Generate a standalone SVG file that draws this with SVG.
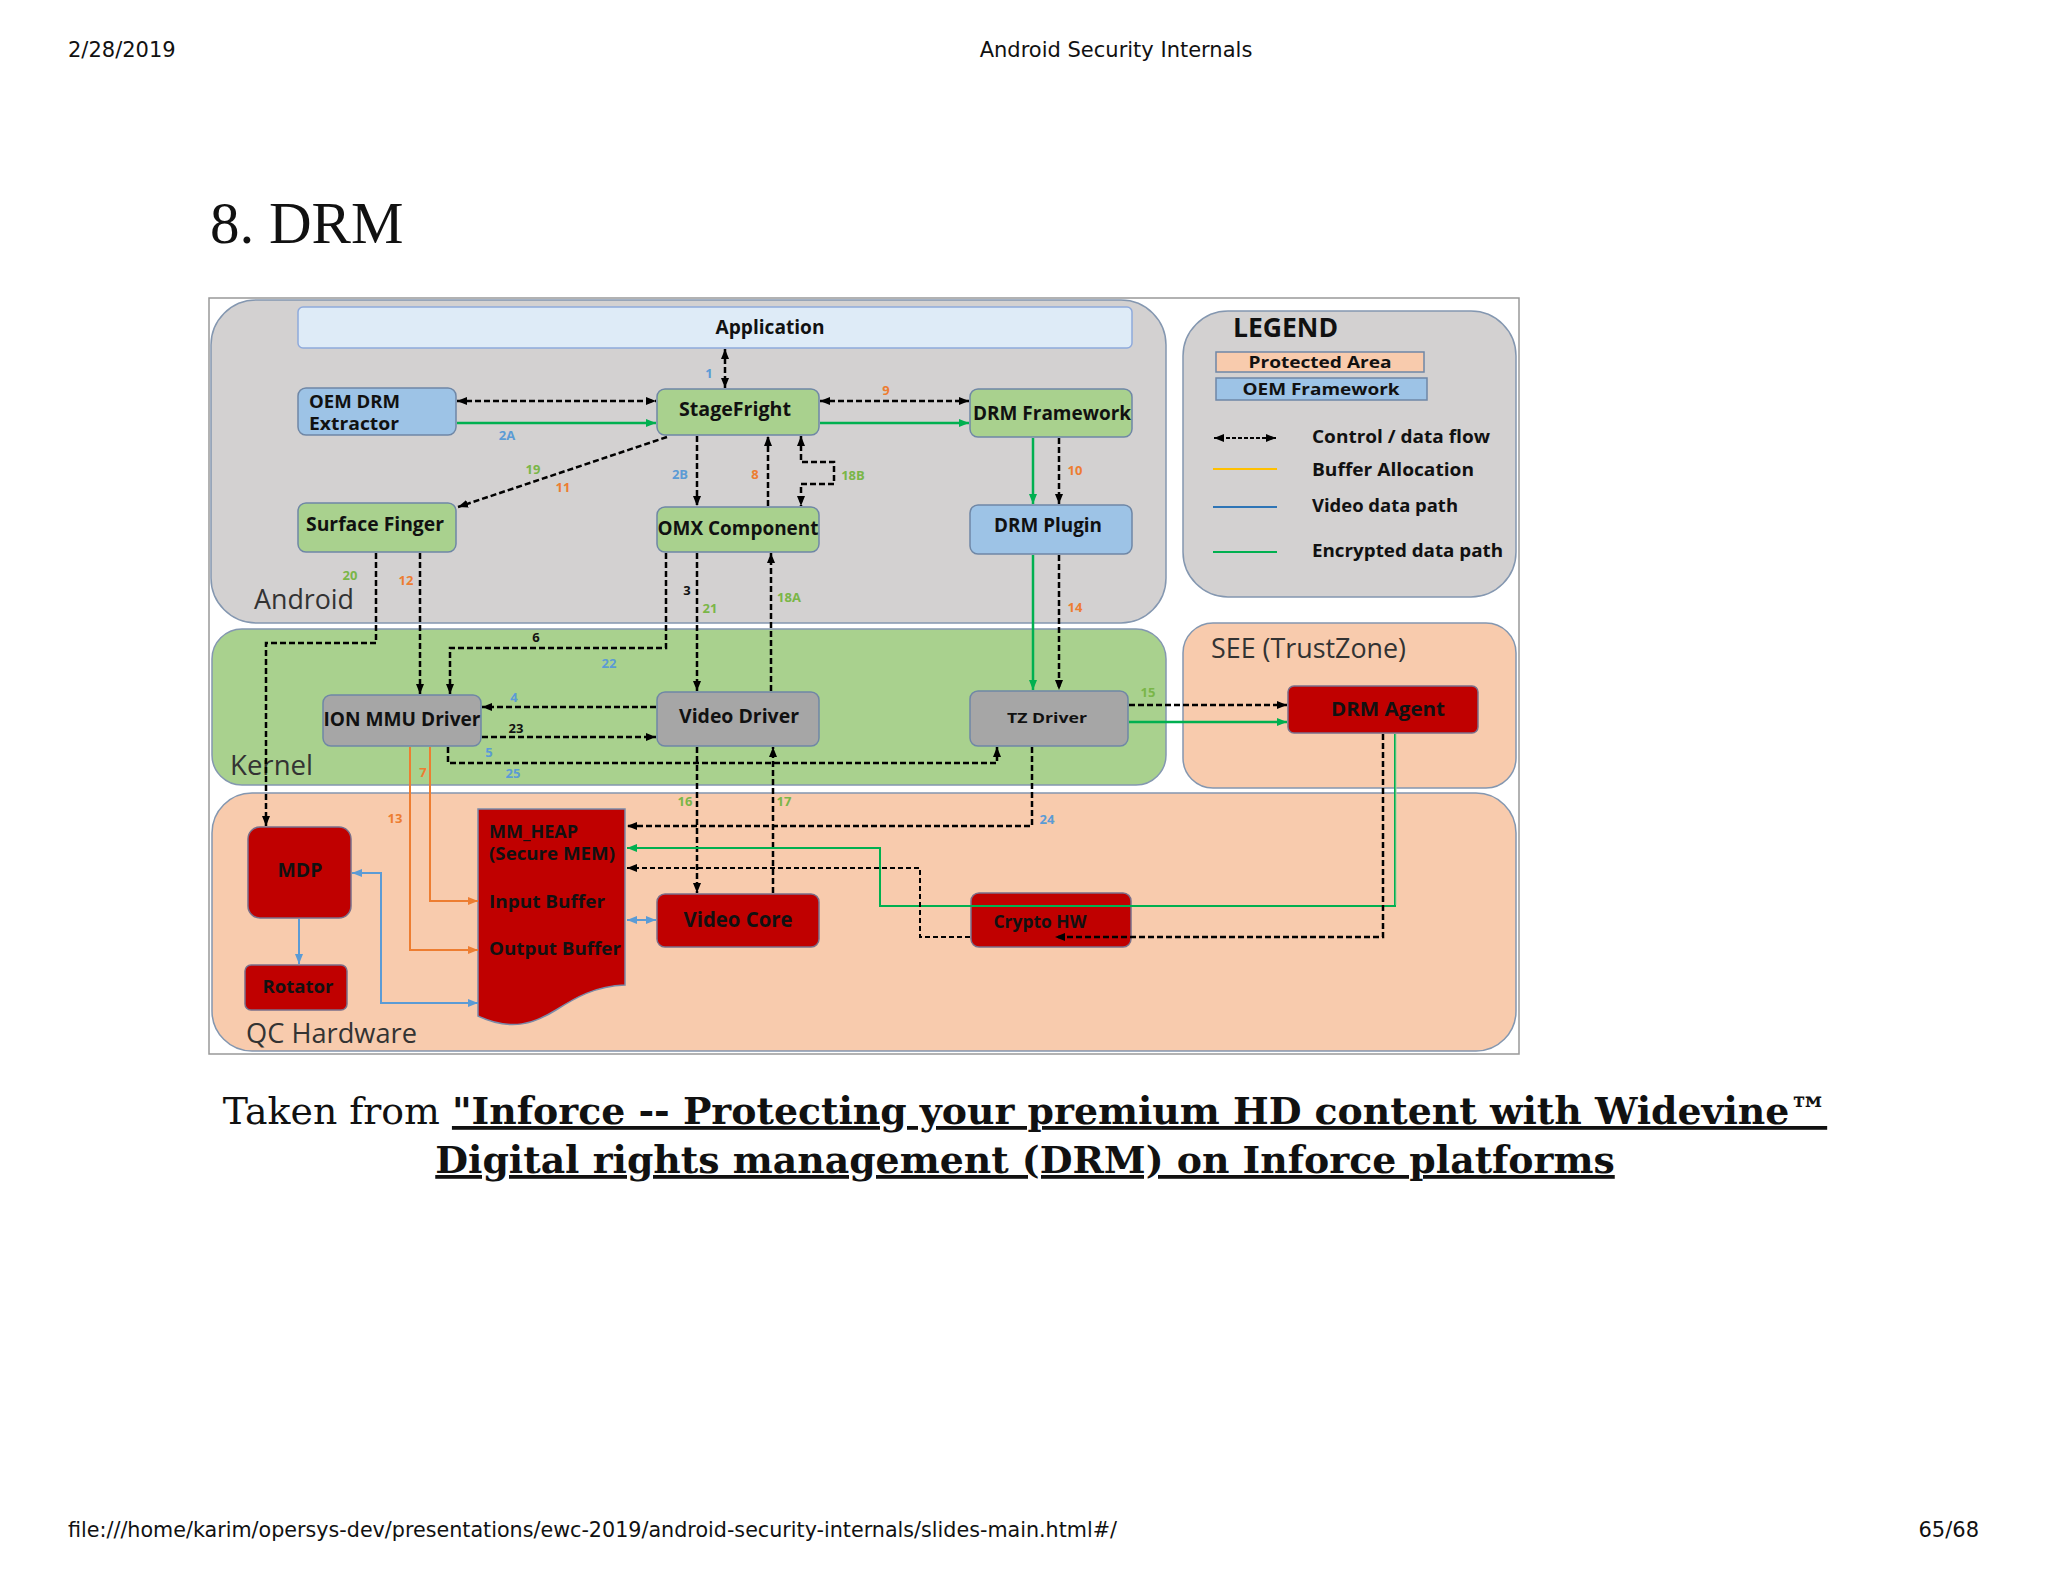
<svg xmlns="http://www.w3.org/2000/svg" width="2048" height="1582" viewBox="0 0 2048 1582">
<defs>
<style>
.hdr{font-family:"DejaVu Sans","Liberation Sans",sans-serif;font-size:21px;fill:#111}
.t{font-family:"Open Sans","Liberation Sans",sans-serif;font-weight:700;fill:#111;text-anchor:middle}
.tl{font-family:"Open Sans","Liberation Sans",sans-serif;font-weight:700;fill:#111}
.sec{font-family:"Open Sans","Liberation Sans",sans-serif;font-size:27px;fill:#333}
.num{font-family:"Open Sans","Liberation Sans",sans-serif;font-weight:700;font-size:13px;text-anchor:middle}
.nb{fill:#5b9bd5}.no{fill:#ed7d31}.ng{fill:#7ab648}.nk{fill:#111}
.panel{stroke:#8497b0;stroke-width:1.5}
.gray{fill:#d3d1d1}.kern{fill:#a9d18e}.peach{fill:#f8cbad}
.ng-box{fill:#a9d18e;stroke:#6f87a6;stroke-width:1.5}
.nb-box{fill:#9dc3e6;stroke:#6f87a6;stroke-width:1.5}
.ngr-box{fill:#a6a6a6;stroke:#6f87a6;stroke-width:1.5}
.nr-box{fill:#c00000;stroke:#7a6f8a;stroke-width:1.5}
.dash{fill:none;stroke:#000;stroke-width:2.5;stroke-dasharray:6 3}
.grn{fill:none;stroke:#00b050;stroke-width:2.5}
.org{fill:none;stroke:#ed7d31;stroke-width:2}
.blu{fill:none;stroke:#5b9bd5;stroke-width:2}
</style>
<marker id="mk" viewBox="0 0 10 10" refX="10" refY="5" markerWidth="10" markerHeight="10" markerUnits="userSpaceOnUse" orient="auto-start-reverse"><path d="M0,1 L10,5 L0,9 z" fill="#000" stroke="none"/></marker>
<marker id="mg" viewBox="0 0 10 10" refX="10" refY="5" markerWidth="10" markerHeight="10" markerUnits="userSpaceOnUse" orient="auto-start-reverse"><path d="M0,1 L10,5 L0,9 z" fill="#00b050" stroke="none"/></marker>
<marker id="mo" viewBox="0 0 10 10" refX="10" refY="5" markerWidth="10" markerHeight="10" markerUnits="userSpaceOnUse" orient="auto-start-reverse"><path d="M0,1 L10,5 L0,9 z" fill="#ed7d31" stroke="none"/></marker>
<marker id="mb" viewBox="0 0 10 10" refX="10" refY="5" markerWidth="10" markerHeight="10" markerUnits="userSpaceOnUse" orient="auto-start-reverse"><path d="M0,1 L10,5 L0,9 z" fill="#5b9bd5" stroke="none"/></marker>
</defs>
<rect x="0" y="0" width="2048" height="1582" fill="#ffffff"/>

<g id="page-header">
<text class="hdr" x="68" y="57">2/28/2019</text>
<text class="hdr" x="1116" y="57" text-anchor="middle">Android Security Internals</text>
</g>
<text x="210" y="243" font-family="'Liberation Serif','Times New Roman',serif" font-size="59" fill="#111">8. DRM</text>

<g id="diagram-frame">
<rect x="209" y="298" width="1310" height="756" fill="#ffffff" stroke="#999" stroke-width="1.5"/>
<rect id="panel-android" class="panel gray" x="211" y="300" width="955" height="323" rx="45"/>
<rect id="panel-kernel" class="panel kern" x="212" y="629" width="954" height="156" rx="30"/>
<rect id="panel-qc" class="panel peach" x="212" y="793" width="1304" height="258" rx="40"/>
<rect id="panel-legend" class="panel gray" x="1183" y="311" width="333" height="286" rx="45"/>
<rect id="panel-see" class="panel peach" x="1183" y="623" width="333" height="165" rx="30"/>
<text class="sec" x="254" y="609" textLength="100" lengthAdjust="spacingAndGlyphs">Android</text>
<text class="sec" x="230" y="775" textLength="83" lengthAdjust="spacingAndGlyphs">Kernel</text>
<text class="sec" x="246" y="1043" textLength="171" lengthAdjust="spacingAndGlyphs">QC Hardware</text>
<text class="sec" x="1211" y="658" textLength="195" lengthAdjust="spacingAndGlyphs">SEE (TrustZone)</text>
</g>

<g id="legend">
<text class="tl" x="1233" y="337" font-size="26" textLength="105" lengthAdjust="spacingAndGlyphs">LEGEND</text>
<rect x="1216" y="352" width="208" height="20" fill="#f8cbad" stroke="#6f87a6" stroke-width="1.5"/>
<text class="t" x="1320" y="368" font-size="16" textLength="143" lengthAdjust="spacingAndGlyphs">Protected Area</text>
<rect x="1216" y="378" width="211" height="22" fill="#9dc3e6" stroke="#6f87a6" stroke-width="1.5"/>
<text class="t" x="1321" y="395" font-size="16" textLength="157" lengthAdjust="spacingAndGlyphs">OEM Framework</text>
<path d="M1214,438 H1276" fill="none" stroke="#000" stroke-width="2" stroke-dasharray="4 2" marker-start="url(#mk)" marker-end="url(#mk)"/>
<path d="M1213,469 H1277" stroke="#ffc000" stroke-width="2"/>
<path d="M1213,507 H1277" stroke="#2e75b6" stroke-width="2"/>
<path d="M1213,552 H1277" stroke="#00b050" stroke-width="2"/>
<text class="tl" x="1312" y="443" font-size="18" textLength="178" lengthAdjust="spacingAndGlyphs">Control / data flow</text>
<text class="tl" x="1312" y="476" font-size="18" textLength="162" lengthAdjust="spacingAndGlyphs">Buffer Allocation</text>
<text class="tl" x="1312" y="512" font-size="18" textLength="146" lengthAdjust="spacingAndGlyphs">Video data path</text>
<text class="tl" x="1312" y="557" font-size="18" textLength="191" lengthAdjust="spacingAndGlyphs">Encrypted data path</text>
</g>

<g id="node-application"><rect x="298" y="307" width="834" height="41" rx="5" fill="#deebf7" stroke="#8faadc" stroke-width="1.5"/><text class="t" x="770" y="334" font-size="19" textLength="109" lengthAdjust="spacingAndGlyphs">Application</text></g>
<g id="node-oem-drm-extractor"><rect class="nb-box" x="298" y="388" width="158" height="47" rx="8"/><text class="tl" x="309" y="408" font-size="18" textLength="91" lengthAdjust="spacingAndGlyphs">OEM DRM</text><text class="tl" x="309" y="430" font-size="18" textLength="90" lengthAdjust="spacingAndGlyphs">Extractor</text></g>
<g id="node-stagefright"><rect class="ng-box" x="657" y="389" width="162" height="46" rx="8"/><text class="t" x="735" y="416" font-size="19" textLength="112" lengthAdjust="spacingAndGlyphs">StageFright</text></g>
<g id="node-drm-framework"><rect class="ng-box" x="970" y="389" width="162" height="48" rx="8"/><text class="t" x="1052" y="420" font-size="19" textLength="158" lengthAdjust="spacingAndGlyphs">DRM Framework</text></g>
<g id="node-surface-finger"><rect class="ng-box" x="298" y="503" width="158" height="49" rx="8"/><text class="t" x="375" y="531" font-size="19" textLength="138" lengthAdjust="spacingAndGlyphs">Surface Finger</text></g>
<g id="node-omx-component"><rect class="ng-box" x="657" y="507" width="162" height="45" rx="8"/><text class="t" x="738" y="535" font-size="19" textLength="161" lengthAdjust="spacingAndGlyphs">OMX Component</text></g>
<g id="node-drm-plugin"><rect class="nb-box" x="970" y="505" width="162" height="49" rx="8"/><text class="t" x="1048" y="532" font-size="19" textLength="108" lengthAdjust="spacingAndGlyphs">DRM Plugin</text></g>
<g id="node-ion-mmu-driver"><rect class="ngr-box" x="323" y="695" width="158" height="51" rx="8"/><text class="t" x="402" y="726" font-size="19" textLength="157" lengthAdjust="spacingAndGlyphs">ION MMU Driver</text></g>
<g id="node-video-driver"><rect class="ngr-box" x="657" y="692" width="162" height="54" rx="8"/><text class="t" x="739" y="723" font-size="19" textLength="120" lengthAdjust="spacingAndGlyphs">Video Driver</text></g>
<g id="node-tz-driver"><rect class="ngr-box" x="970" y="691" width="158" height="55" rx="8"/><text class="t" x="1047" y="723" font-size="15" textLength="80" lengthAdjust="spacingAndGlyphs">TZ Driver</text></g>
<g id="node-drm-agent"><rect class="nr-box" x="1288" y="686" width="190" height="47" rx="6"/><text class="t" x="1388" y="716" font-size="20" textLength="114" lengthAdjust="spacingAndGlyphs">DRM Agent</text></g>
<g id="node-mdp"><rect class="nr-box" x="248" y="827" width="103" height="91" rx="12"/><text class="t" x="300" y="877" font-size="19" textLength="45" lengthAdjust="spacingAndGlyphs">MDP</text></g>
<g id="node-rotator"><rect class="nr-box" x="245" y="965" width="102" height="45" rx="6"/><text class="t" x="298" y="993" font-size="18" textLength="71" lengthAdjust="spacingAndGlyphs">Rotator</text></g>
<g id="node-mm-heap"><path d="M478,809 H625 V985 C595,986 575,998 556,1010 C535,1023 512,1032 478,1016 Z" fill="#c00000" stroke="#7a8aa8" stroke-width="1.5"/>
<text class="tl" x="489" y="838" font-size="18" textLength="89" lengthAdjust="spacingAndGlyphs">MM_HEAP</text>
<text class="tl" x="489" y="860" font-size="18" textLength="126" lengthAdjust="spacingAndGlyphs">(Secure MEM)</text>
<text class="tl" x="489" y="908" font-size="18" textLength="116" lengthAdjust="spacingAndGlyphs">Input Buffer</text>
<text class="tl" x="489" y="955" font-size="18" textLength="132" lengthAdjust="spacingAndGlyphs">Output Buffer</text></g>
<g id="node-video-core"><rect class="nr-box" x="657" y="894" width="162" height="53" rx="8"/><text class="t" x="738" y="927" font-size="21" textLength="109" lengthAdjust="spacingAndGlyphs">Video Core</text></g>
<g id="node-crypto-hw"><rect class="nr-box" x="971" y="893" width="160" height="54" rx="8"/><text class="t" x="1040" y="928" font-size="17" textLength="93" lengthAdjust="spacingAndGlyphs">Crypto HW</text></g>

<g id="connectors">
<path class="dash" d="M725,349 V388" marker-start="url(#mk)" marker-end="url(#mk)"/>
<path class="dash" d="M457,401 H656" marker-start="url(#mk)" marker-end="url(#mk)"/>
<path class="grn" d="M457,423 H656" marker-end="url(#mg)"/>
<path class="dash" d="M820,401 H969" marker-start="url(#mk)" marker-end="url(#mk)"/>
<path class="grn" d="M820,423 H969" marker-end="url(#mg)"/>
<path class="dash" d="M667,437 L458,507" marker-end="url(#mk)"/>
<path class="dash" d="M697,436 V506" marker-end="url(#mk)"/>
<path class="dash" d="M768,506 V436" marker-end="url(#mk)"/>
<path class="dash" d="M801,436 V462 H834 V484 H801 V506" marker-start="url(#mk)" marker-end="url(#mk)"/>
<path class="grn" d="M1033,438 V504" marker-end="url(#mg)"/>
<path class="dash" d="M1059,438 V504" marker-end="url(#mk)"/>
<path class="grn" d="M1033,555 V690" marker-end="url(#mg)"/>
<path class="dash" d="M1059,555 V690" marker-end="url(#mk)"/>
<path class="dash" d="M1129,705 H1287" marker-end="url(#mk)"/>
<path class="grn" d="M1129,722 H1287" marker-end="url(#mg)"/>
<path class="dash" d="M376,553 V643 H266 V826" marker-end="url(#mk)"/>
<path class="dash" d="M420,553 V694" marker-end="url(#mk)"/>
<path class="dash" d="M666,553 V648 H450 V694" marker-end="url(#mk)"/>
<path class="dash" d="M697,553 V691" marker-end="url(#mk)"/>
<path class="dash" d="M771,691 V553" marker-end="url(#mk)"/>
<path class="dash" d="M656,707 H482" marker-end="url(#mk)"/>
<path class="dash" d="M482,737 H656" marker-end="url(#mk)"/>
<path class="dash" d="M448,747 V763 H997 V747" marker-end="url(#mk)"/>
<path class="dash" d="M697,747 V893" marker-end="url(#mk)"/>
<path class="dash" d="M773,893 V747" marker-end="url(#mk)"/>
<path class="dash" d="M1032,747 V826 H627" marker-end="url(#mk)"/>
<path fill="none" stroke="#00b050" stroke-width="2" d="M1395,734 V906 H880 V848 H627" marker-end="url(#mg)"/>
<path fill="none" stroke="#9fd3a0" stroke-width="1" d="M1396,734 V905"/>
<path class="dash" d="M1383,734 V937 H1055" marker-end="url(#mk)"/>
<path fill="none" stroke="#000" stroke-width="2" stroke-dasharray="5 3" d="M970,937 H920 V868 H627" marker-end="url(#mk)"/>
<path class="blu" d="M627,920 H656" marker-start="url(#mb)" marker-end="url(#mb)"/>
<path class="org" d="M430,747 V901 H478" marker-end="url(#mo)"/>
<path class="org" d="M410,747 V950 H478" marker-end="url(#mo)"/>
<path class="blu" d="M299,919 V964" marker-end="url(#mb)"/>
<path class="blu" d="M352,873 H381 V1003 H478" marker-start="url(#mb)" marker-end="url(#mb)"/>
</g>

<g id="connector-labels">
<text class="num nb" x="709" y="378">1</text>
<text class="num nb" x="507" y="440">2A</text>
<text class="num no" x="886" y="395">9</text>
<text class="num ng" x="533" y="474">19</text>
<text class="num no" x="563" y="492">11</text>
<text class="num nb" x="680" y="479">2B</text>
<text class="num no" x="755" y="479">8</text>
<text class="num ng" x="853" y="480">18B</text>
<text class="num no" x="1075" y="475">10</text>
<text class="num ng" x="350" y="580">20</text>
<text class="num no" x="406" y="585">12</text>
<text class="num nk" x="687" y="595">3</text>
<text class="num ng" x="710" y="613">21</text>
<text class="num ng" x="789" y="602">18A</text>
<text class="num no" x="1075" y="612">14</text>
<text class="num nk" x="536" y="642">6</text>
<text class="num nb" x="609" y="668">22</text>
<text class="num nb" x="514" y="702">4</text>
<text class="num nk" x="516" y="733">23</text>
<text class="num ng" x="1148" y="697">15</text>
<text class="num nb" x="489" y="757">5</text>
<text class="num nb" x="513" y="778">25</text>
<text class="num no" x="423" y="777">7</text>
<text class="num no" x="395" y="823">13</text>
<text class="num ng" x="685" y="806">16</text>
<text class="num ng" x="784" y="806">17</text>
<text class="num nb" x="1047" y="824">24</text>
</g>

<g id="caption" font-family="'DejaVu Serif','Liberation Serif',serif" font-size="37.8" fill="#111">
<text x="1025" y="1124" text-anchor="middle"><tspan>Taken from </tspan><tspan font-weight="700" text-decoration="underline">"Inforce -- Protecting your premium HD content with Widevine™</tspan></text>
<text x="1025" y="1173" text-anchor="middle" font-weight="700" text-decoration="underline">Digital rights management (DRM) on Inforce platforms</text>
</g>

<g id="page-footer">
<text class="hdr" x="68" y="1537" textLength="1049" lengthAdjust="spacingAndGlyphs">file:///home/karim/opersys-dev/presentations/ewc-2019/android-security-internals/slides-main.html#/</text>
<text class="hdr" x="1979" y="1537" text-anchor="end">65/68</text>
</g>
</svg>
